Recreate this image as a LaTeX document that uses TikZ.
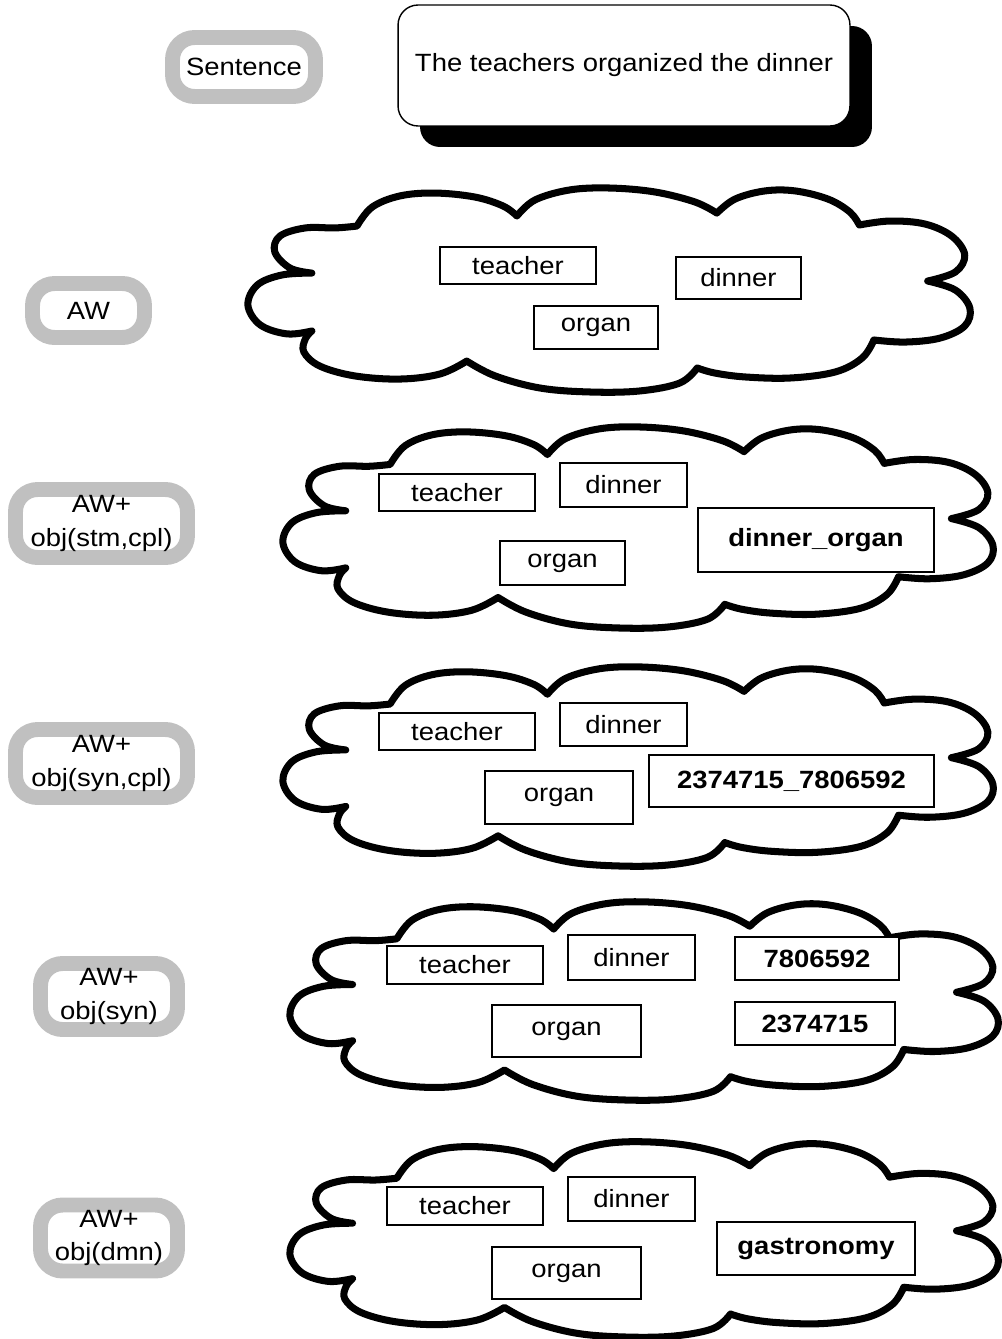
\documentclass[tikz,border=0pt]{standalone}
\usepackage{fontspec}
\setmainfont{Liberation Sans}[FakeStretch=1.1]
\usetikzlibrary{shadows}
\definecolor{labelgray}{RGB}{192,192,192}

% cloud outline in a unit box, given left, top, right, bottom (in px)
\newcommand{\wordcloud}[4]{%
  \pgfmathsetmacro\cw{(#3-#1)*0.02}%
  \pgfmathsetmacro\ch{(#4-#2)*0.02}%
  \begin{scope}[shift={(#1,-#2)}, x=\cw cm, y=-\ch cm]
    \draw[cloudline]
      plot[lobe] coordinates {(0.092,0.431) (0.062,0.407) (0.041,0.330) (0.048,0.254) (0.083,0.215) (0.124,0.215) (0.154,0.206)}
      -- plot[lobe] coordinates {(0.154,0.206) (0.175,0.115) (0.213,0.062) (0.261,0.048) (0.316,0.067) (0.355,0.110) (0.374,0.158)}
      -- plot[lobe] coordinates {(0.374,0.158) (0.399,0.081) (0.447,0.033) (0.502,0.024) (0.564,0.043) (0.619,0.091) (0.649,0.144)}
      -- plot[lobe] coordinates {(0.649,0.144) (0.674,0.077) (0.715,0.038) (0.757,0.038) (0.802,0.077) (0.832,0.139) (0.845,0.201)}
      -- plot[lobe] coordinates {(0.845,0.201) (0.887,0.182) (0.935,0.196) (0.972,0.254) (0.990,0.344) (0.977,0.426) (0.939,0.469)}
      -- plot[lobe] coordinates {(0.939,0.469) (0.977,0.512) (0.997,0.598) (0.990,0.684) (0.956,0.742) (0.908,0.761) (0.865,0.751)}
      -- plot[lobe] coordinates {(0.865,0.751) (0.849,0.837) (0.812,0.904) (0.750,0.933) (0.688,0.928) (0.646,0.909) (0.622,0.885)}
      -- plot[lobe] coordinates {(0.622,0.885) (0.598,0.957) (0.543,0.995) (0.475,1.000) (0.406,0.981) (0.344,0.923) (0.305,0.852)}
      -- plot[lobe] coordinates {(0.305,0.852) (0.268,0.914) (0.213,0.938) (0.151,0.923) (0.103,0.876) (0.081,0.809) (0.083,0.746) (0.092,0.708)}
      -- plot[lobe] coordinates {(0.092,0.708) (0.058,0.722) (0.021,0.679) (0.004,0.584) (0.017,0.488) (0.051,0.440) (0.092,0.431)}
      -- cycle;
  \end{scope}}

\begin{document}
\begin{tikzpicture}[x=0.02cm, y=0.02cm,
    txt/.style={font=\fontsize{14.2}{18.8}\selectfont},
    lobe/.style={smooth, tension=0.6},
    cloudline/.style={line width=4pt, line join=round, fill=white},
    wbox/.style 2 args={draw, line width=0.8pt, fill=white, inner sep=0pt, txt,
      minimum width=#1cm, minimum height=#2cm},
    labelbox/.style 2 args={draw=labelgray, line width=8.5pt, rounded corners=0.44cm,
      fill=white, inner sep=0pt, align=center, txt, minimum width=#1cm, minimum height=#2cm}]
  \useasboundingbox (0,0) rectangle (1001,-1339);

  % row labels
  \node[labelbox={2.86}{1.18}] (sentlbl) at (244,-67) {Sentence};
  \node[labelbox={2.24}{1.08}] (awlbl) at (88.5,-310.5) {AW};
  \node[labelbox={3.44}{1.36}] (stmlbl) at (101.5,-523.5) {AW+\\obj(stm,cpl)};
  \node[labelbox={3.44}{1.36}] (syncpllbl) at (101.5,-763.5) {AW+\\obj(syn,cpl)};
  \node[labelbox={2.74}{1.32}] (synlbl) at (109,-996.5) {AW+\\obj(syn)};
  \node[labelbox={2.74}{1.32}] (dmnlbl) at (109,-1238) {AW+\\obj(dmn)};

  % the sentence
  \node[draw, line width=0.8pt, fill=white, rounded corners=0.4cm, txt,
    minimum width=9.04cm, minimum height=2.42cm,
    drop shadow={opacity=1, fill=black, shadow xshift=0.44cm, shadow yshift=-0.42cm}]
    (sentence) at (624,-65.5) {The teachers organized the dinner};

  % AW
  \wordcloud{245}{183}{972}{392}
  \node[wbox={3.12}{0.74}] (teacherA) at (518,-265.5) {teacher};
  \node[wbox={2.5}{0.84}] (dinnerA) at (738.5,-278) {dinner};
  \node[wbox={2.48}{0.86}] (organA) at (596,-327.5) {organ};

  % AW+obj(stm,cpl)
  \wordcloud{280}{422}{995}{628}
  \node[wbox={3.12}{0.74}] (teacherB) at (457,-492.5) {teacher};
  \node[wbox={2.54}{0.88}] (dinnerB) at (623.5,-485) {dinner};
  \node[wbox={2.5}{0.88}] (organB) at (562.5,-563) {organ};
  \node[wbox={4.72}{1.28}, font=\fontsize{14.2}{18.8}\selectfont\bfseries] (stmB) at (816,-540) {dinner\_organ};

  % AW+obj(syn,cpl)
  \wordcloud{280}{662}{995}{866}
  \node[wbox={3.12}{0.74}] (teacherC) at (457,-731.5) {teacher};
  \node[wbox={2.54}{0.86}] (dinnerC) at (623.5,-724.5) {dinner};
  \node[wbox={2.96}{1.06}] (organC) at (559,-797.5) {organ};
  \node[wbox={5.7}{1.04}, font=\fontsize{14.2}{18.8}\selectfont\bfseries] (syncplC) at (791.5,-781) {2374715\_7806592};

  % AW+obj(syn)
  \wordcloud{287}{897}{1000}{1100}
  \node[wbox={3.12}{0.76}] (teacherD) at (465,-965) {teacher};
  \node[wbox={2.54}{0.9}] (dinnerD) at (631.5,-957.5) {dinner};
  \node[wbox={2.98}{1.04}] (organD) at (566.5,-1031) {organ};
  \node[wbox={3.28}{0.86}, font=\fontsize{14.2}{18.8}\selectfont\bfseries] (synD) at (817,-958.5) {7806592};
  \node[wbox={3.2}{0.86}, font=\fontsize{14.2}{18.8}\selectfont\bfseries] (synE) at (815,-1023.5) {2374715};

  % AW+obj(dmn)
  \wordcloud{287}{1137}{1000}{1337}
  \node[wbox={3.12}{0.76}] (teacherF) at (465,-1206) {teacher};
  \node[wbox={2.54}{0.88}] (dinnerF) at (631.5,-1199) {dinner};
  \node[wbox={2.98}{1.04}] (organF) at (566.5,-1273) {organ};
  \node[wbox={3.96}{1.06}, font=\fontsize{14.2}{18.8}\selectfont\bfseries] (dmnF) at (816,-1248.5) {gastronomy};
\end{tikzpicture}
\end{document}
